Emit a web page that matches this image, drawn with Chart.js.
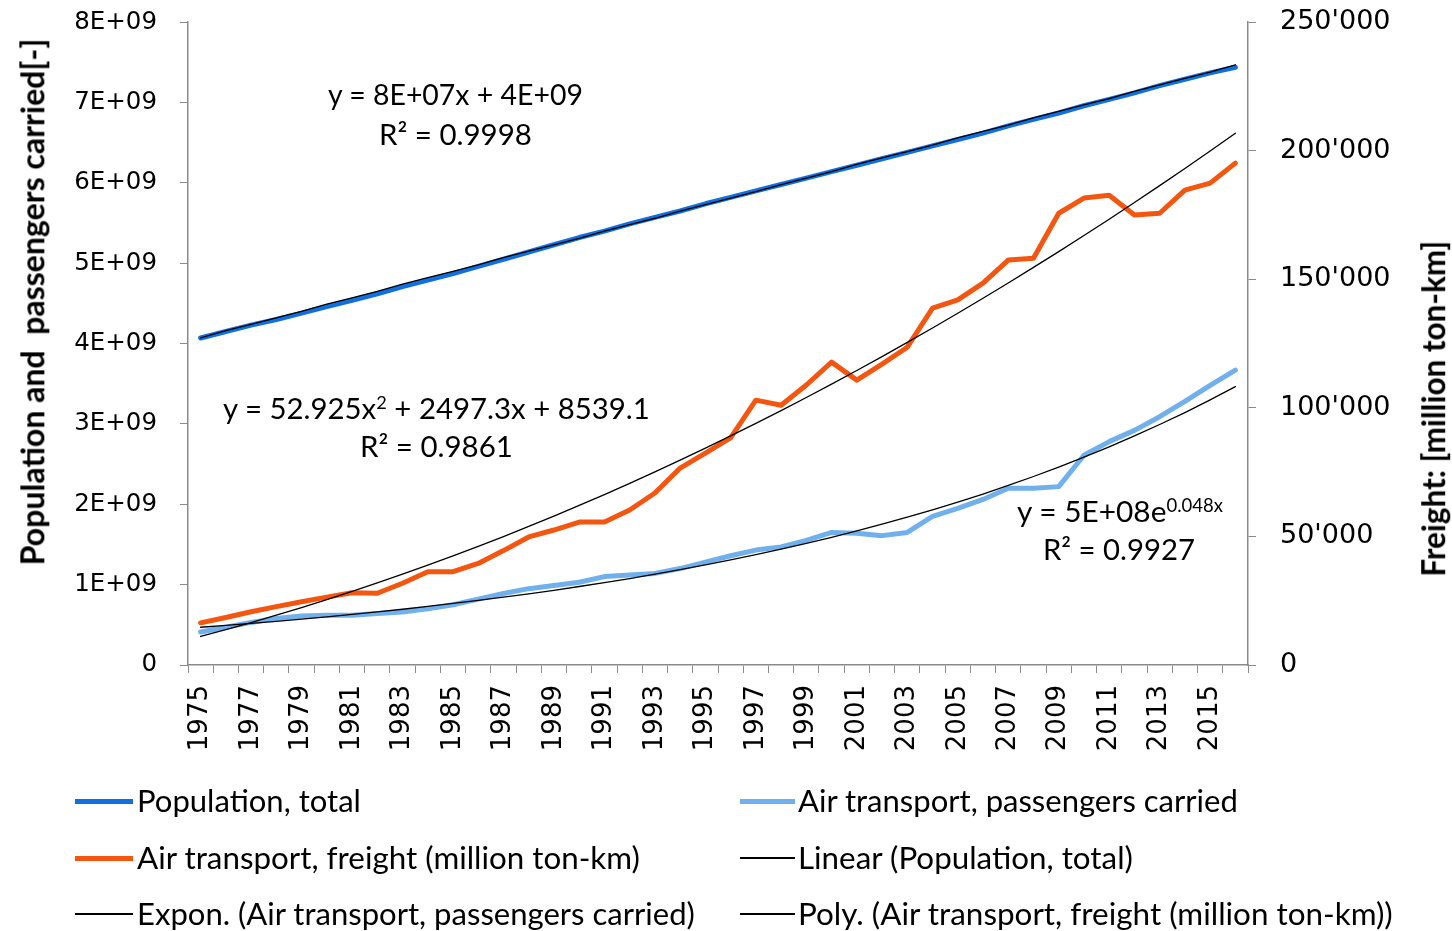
<!DOCTYPE html>
<html><head><meta charset="utf-8">
<script src="https://cdn.jsdelivr.net/npm/chart.js@4.4.1/dist/chart.umd.min.js"></script>
<style>
html,body{margin:0;padding:0;background:#fff;}
#wrap{position:relative;width:1452px;height:931px;overflow:hidden;background:#fff;}
canvas{position:absolute;left:0;top:0;}
.t{position:absolute;white-space:nowrap;font-family:Lato,"Open Sans",sans-serif;color:#000;line-height:1;}
.t sup{font-size:0.62em;vertical-align:0.55em;line-height:0;}
.sw{position:absolute;}
</style></head><body>
<div id="wrap"><canvas id="c" width="1452" height="931"></canvas></div>
<script>
// ---- data ----
const years = ['1975','1976','1977','1978','1979','1980','1981','1982','1983','1984','1985','1986','1987','1988','1989','1990','1991','1992','1993','1994','1995','1996','1997','1998','1999','2000','2001','2002','2003','2004','2005','2006','2007','2008','2009','2010','2011','2012','2013','2014','2015','2016'];
const xTickLabels = ['1975','1977','1979','1981','1983','1985','1987','1989','1991','1993','1995','1997','1999','2001','2003','2005','2007','2009','2011','2013','2015'];
const leftTickLabels = ['0','1E+09','2E+09','3E+09','4E+09','5E+09','6E+09','7E+09','8E+09'];
const rightTickLabels = ['0',"50'000","100'000","150'000","200'000","250'000"];

// population, total (billions)
const population = [4.07,4.15,4.23,4.30,4.38,4.46,4.54,4.62,4.71,4.79,4.87,4.96,5.05,5.14,5.23,5.32,5.40,5.49,5.57,5.65,5.74,5.82,5.90,5.98,6.06,6.14,6.22,6.30,6.38,6.46,6.54,6.62,6.71,6.79,6.87,6.96,7.04,7.12,7.21,7.29,7.37,7.44];
// air transport, passengers carried (billions)
const passengers = [0.41,0.47,0.53,0.58,0.61,0.62,0.62,0.64,0.66,0.70,0.75,0.82,0.89,0.95,0.99,1.03,1.10,1.12,1.14,1.20,1.28,1.36,1.43,1.47,1.55,1.65,1.64,1.61,1.65,1.85,1.95,2.06,2.20,2.20,2.22,2.61,2.78,2.92,3.09,3.28,3.48,3.67];
// air transport, freight (thousand million ton-km)
const freight = [16.4,18.5,20.7,22.7,24.6,26.4,28.1,27.9,31.8,36.3,36.3,39.5,44.5,49.8,52.5,55.6,55.6,60.3,66.9,76.6,82.4,88.3,103.0,101.0,108.9,117.8,110.8,117.0,123.6,138.8,142.0,148.5,157.5,158.2,175.7,181.6,182.7,175.0,175.7,184.7,187.4,195.2];
// trendlines as drawn
const linearPopTrend = [4.07,4.16,4.24,4.32,4.40,4.49,4.57,4.65,4.74,4.82,4.90,4.98,5.07,5.15,5.23,5.31,5.40,5.48,5.56,5.65,5.73,5.81,5.89,5.98,6.06,6.14,6.23,6.31,6.39,6.47,6.56,6.64,6.72,6.81,6.89,6.97,7.05,7.14,7.22,7.30,7.38,7.47];
const exponPassTrend = [0.470,0.494,0.519,0.544,0.572,0.600,0.630,0.661,0.694,0.729,0.766,0.804,0.844,0.886,0.930,0.977,1.025,1.076,1.130,1.187,1.246,1.308,1.373,1.442,1.514,1.589,1.668,1.752,1.839,1.931,2.027,2.128,2.235,2.346,2.463,2.586,2.715,2.851,2.993,3.142,3.299,3.464];
const polyFreightTrend = [11.09,13.75,16.51,19.38,22.35,25.43,28.61,31.91,35.30,38.81,42.41,46.13,49.95,53.88,57.91,62.05,66.29,70.64,75.09,79.66,84.32,89.10,93.97,98.96,104.05,109.25,114.55,119.96,125.47,131.09,136.82,142.65,148.59,154.63,160.78,167.03,173.39,179.86,186.43,193.11,199.90,206.79];

const seriesNames = ['Population, total','Air transport, passengers carried','Air transport, freight (million ton-km)','Linear (Population, total)','Expon. (Air transport, passengers carried)','Poly. (Air transport, freight (million ton-km))'];

// ---- style ----
const C_POP = 'rgb(18,112,222)';
const C_PASS = 'rgb(112,176,236)';
const C_FREIGHT = 'rgb(244,86,16)';
const C_TREND = '#000000';
const AXIS = '#8a8a8a';
const FAM = '"DejaVu Sans", Verdana, sans-serif';
const PLOT_TOP = 22, PAGE_H = 931;

const canvas = document.getElementById('c');
const chart = new Chart(canvas.getContext('2d'), {
  type:'line',
  data:{
    labels: years,
    datasets:[
      {label:seriesNames[3], data:linearPopTrend, yAxisID:'y', borderColor:C_TREND, borderWidth:1.3},
      {label:seriesNames[4], data:exponPassTrend, yAxisID:'y', borderColor:C_TREND, borderWidth:1.3},
      {label:seriesNames[5], data:polyFreightTrend, yAxisID:'y2', borderColor:C_TREND, borderWidth:1.3},
      {label:seriesNames[0], data:population, yAxisID:'y', borderColor:C_POP, borderWidth:5},
      {label:seriesNames[1], data:passengers, yAxisID:'y', borderColor:C_PASS, borderWidth:5},
      {label:seriesNames[2], data:freight, yAxisID:'y2', borderColor:C_FREIGHT, borderWidth:5}
    ]
  },
  options:{
    responsive:false, maintainAspectRatio:false, animation:false,
    layout:{padding:{top:0,left:0,right:0,bottom:0}},
    elements:{line:{tension:0, borderCapStyle:'round', borderJoinStyle:'round'}, point:{radius:0}},
    plugins:{legend:{display:false}, tooltip:{enabled:false}},
    scales:{
      x:{
        type:'category', offset:true,
        grid:{display:true, drawOnChartArea:false, drawTicks:true, tickLength:8, color:AXIS, offset:true},
        border:{display:true, color:AXIS, width:1.5},
        ticks:{autoSkip:false, maxRotation:90, minRotation:90, padding:12, font:{family:FAM, size:26}, color:'#000',
          callback:function(v,i){const l=years[i]; return xTickLabels.includes(l)?l:'';}},
        afterFit:function(s){s.height=266;}
      },
      y:{
        position:'left', min:0, max:8,
        grid:{display:true, drawOnChartArea:false, drawTicks:true, tickLength:8, color:AXIS},
        border:{display:true, color:AXIS, width:1.5},
        ticks:{stepSize:1, padding:23, font:{family:FAM, size:24.5}, color:'#000', callback:function(v,i){return leftTickLabels[i];}},
        afterFit:function(s){s.width=188;}
      },
      y2:{
        position:'right', min:0, max:250,
        grid:{display:true, drawOnChartArea:false, drawTicks:true, tickLength:8, color:AXIS},
        border:{display:true, color:AXIS, width:1.5},
        ticks:{stepSize:50, padding:24, font:{family:FAM, size:27}, color:'#000', callback:function(v,i){return rightTickLabels[i];}},
        afterFit:function(s){s.width=204;}
      }
    }
  }
});
// align plot area top with the reference: grow canvas and shift it up by the extra top space
const extra = Math.round(chart.chartArea.top - PLOT_TOP);
if (extra !== 0) {
  chart.resize(1452, PAGE_H + extra);
  canvas.style.top = (-extra) + 'px';
}

// ---- HTML text (annotations, titles, legend) ----
const wrap = document.getElementById('wrap');
function place(html, x, cy, width, opts){
  opts = opts || {};
  const el = document.createElement('div');
  el.className='t';
  el.innerHTML = html;
  if (opts.bold) el.style.fontWeight='bold';
  el.style.fontSize='40px';
  wrap.appendChild(el);
  let w = el.getBoundingClientRect().width;
  const fs = 40*width/w;
  el.style.fontSize = fs+'px';
  w = el.offsetWidth; const h = el.offsetHeight;
  if (opts.rotate){
    el.style.left = (x - w/2)+'px';
    el.style.top = (cy - h/2)+'px';
    el.style.transform='rotate(-90deg)';
  } else {
    const left = opts.center ? x - w/2 : x;
    el.style.left = left+'px';
    el.style.top = (cy - h/2 - 0.03*fs)+'px';
  }
  return el;
}
// trendline equations
place('y = 8E+07x + 4E+09', 455.5, 95, 255, {center:true});
place('R² = 0.9998', 455.5, 134, 153, {center:true});
place('y = 52.925x<sup>2</sup> + 2497.3x + 8539.1', 436.5, 408, 427, {center:true});
place('R² = 0.9861', 436.5, 446, 153, {center:true});
place('y = 5E+08e<sup>0.048x</sup>', 1120, 512, 206, {center:true});
place('R² = 0.9927', 1119, 549, 152, {center:true});
// axis titles
place('Population and&nbsp;&nbsp;passengers carried[-]', 32, 302, 527, {rotate:true, bold:true});
place('Freight: [million ton-km]', 1434, 408, 336, {rotate:true, bold:true});
// legend
function swatch(x1, x2, y, color, w){
  const d=document.createElement('div'); d.className='sw';
  d.style.left=x1+'px'; d.style.width=(x2-x1)+'px'; d.style.top=(y-w/2)+'px'; d.style.height=w+'px';
  d.style.background=color; wrap.appendChild(d);
}
swatch(75,133,801,C_POP,5);   place(seriesNames[0],137,801,224);
swatch(740,795,801,C_PASS,5); place(seriesNames[1],798,801,440);
swatch(75,133,858,C_FREIGHT,5); place(seriesNames[2],137,858,503);
swatch(740,795,858,C_TREND,1.5); place(seriesNames[3],798,858,335);
swatch(75,133,914,C_TREND,1.5); place(seriesNames[4],137,914,558);
swatch(740,795,914,C_TREND,1.5); place(seriesNames[5],798,914,595);
</script>
</body></html>
